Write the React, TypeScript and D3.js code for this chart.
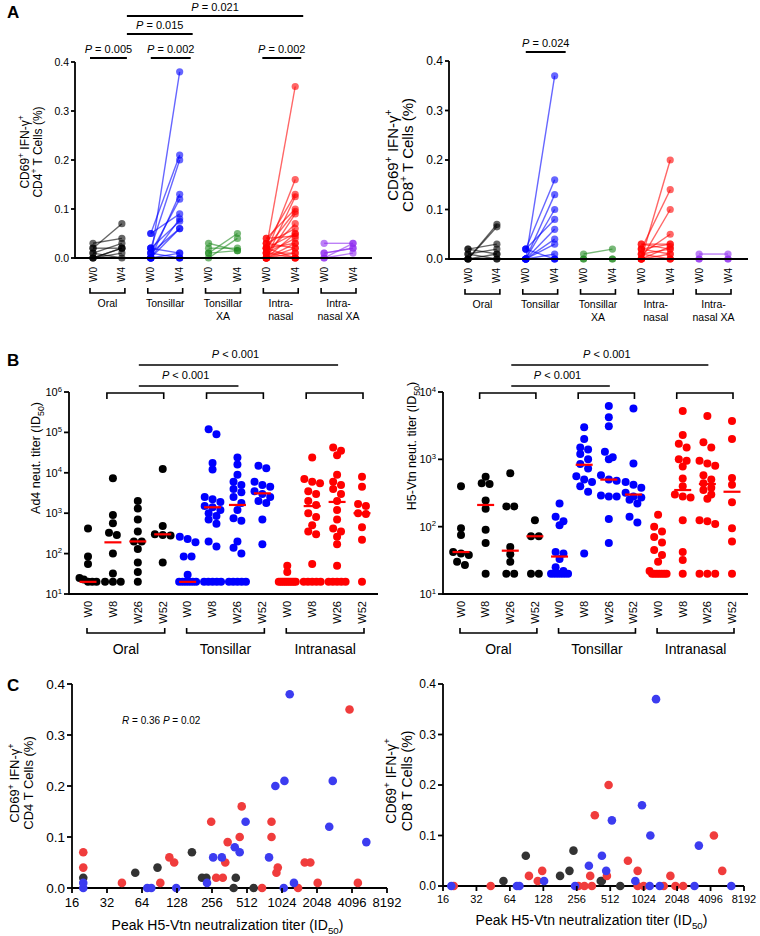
import React from "react";
import * as d3 from "d3";

const FONT = "'Liberation Sans', Arial, Helvetica, sans-serif";

// ---------------- Panel A data ----------------
const aGroups = ["Oral", "Tonsillar", "Tonsillar XA", "Intranasal", "Intranasal XA"];
const aGroupLabels = [["Oral"], ["Tonsillar"], ["Tonsillar", "XA"], ["Intra-", "nasal"], ["Intra-", "nasal XA"]];
const aTimes = ["W0", "W4"];
const aColors = ["#000000", "#0000ff", "#1f8a1f", "#ff0000", "#8f2bf0"];
const aTicks = [0, 0.1, 0.2, 0.3, 0.4];

// pairs: [W0, W4]
const cd4Oral = [[0.02, 0.07], [0.03, 0.04], [0.01, 0.03], [0.0, 0.02], [0.02, 0.02], [0.0, 0.01], [0.01, 0.0], [0.0, 0.02]];
const cd4Tonsillar = [[0.0, 0.38], [0.05, 0.21], [0.02, 0.2], [0.0, 0.13], [0.01, 0.12], [0.05, 0.09], [0.0, 0.08], [0.02, 0.075], [0.0, 0.06], [0.01, 0.06], [0.0, 0.01], [0.02, 0.01], [0.0, 0.0], [0.0, 0.0], [0.01, 0.0]];
const cd4TonsillarXA = [[0.03, 0.015], [0.01, 0.05], [0.0, 0.04], [0.02, 0.02], [0.01, 0.015]];
const cd4Intranasal = [[0.02, 0.35], [0.01, 0.16], [0.03, 0.13], [0.0, 0.125], [0.04, 0.1], [0.02, 0.095], [0.0, 0.09], [0.01, 0.07], [0.03, 0.06], [0.02, 0.05], [0.0, 0.05], [0.04, 0.045], [0.01, 0.04], [0.0, 0.03], [0.02, 0.03], [0.03, 0.02], [0.0, 0.02], [0.01, 0.01], [0.0, 0.01], [0.02, 0.0], [0.0, 0.0], [0.0, 0.0], [0.01, 0.0]];
const cd4IntranasalXA = [[0.03, 0.03], [0.01, 0.02], [0.0, 0.03], [0.0, 0.01], [0.01, 0.02]];

const cd8Oral = [[0.0, 0.07], [0.0, 0.065], [0.02, 0.03], [0.01, 0.02], [0.02, 0.01], [0.0, 0.01], [0.01, 0.0], [0.0, 0.0]];
const cd8Tonsillar = [[0.0, 0.37], [0.02, 0.16], [0.0, 0.13], [0.0, 0.1], [0.02, 0.08], [0.0, 0.06], [0.0, 0.04], [0.0, 0.03], [0.0, 0.01], [0.0, 0.0], [0.02, 0.0], [0.0, 0.0]];
const cd8TonsillarXA = [[0.01, 0.02], [0.0, 0.0], [0.0, 0.0]];
const cd8Intranasal = [[0.0, 0.2], [0.02, 0.14], [0.0, 0.1], [0.01, 0.05], [0.03, 0.03], [0.02, 0.03], [0.0, 0.025], [0.01, 0.02], [0.03, 0.02], [0.0, 0.01], [0.02, 0.01], [0.01, 0.0], [0.0, 0.0], [0.0, 0.0]];
const cd8IntranasalXA = [[0.01, 0.01], [0.0, 0.0], [0.0, 0.0]];

const cd4Data = [cd4Oral, cd4Tonsillar, cd4TonsillarXA, cd4Intranasal, cd4IntranasalXA];
const cd8Data = [cd8Oral, cd8Tonsillar, cd8TonsillarXA, cd8Intranasal, cd8IntranasalXA];

// ---------------- Panel B data ----------------
const bGroups = ["Oral", "Tonsillar", "Intranasal"];
const bTimes = ["W0", "W8", "W26", "W52"];
const bColors = ["#000000", "#0000ff", "#ff0000"];

const ad4Oral = [
  [420, 85, 55, 25, 23, 20, 20, 20],
  [7300, 900, 560, 330, 290, 100, 32, 20, 20, 20],
  [2000, 1300, 700, 350, 200, 200, 130, 60, 35, 20],
  [12500, 480, 300, 290, 280, 60],
];
const ad4Tonsillar = [
  [260, 230, 190, 85, 85, 30, 20, 20, 20, 20, 20, 20],
  [120000, 90000, 17500, 12000, 2500, 2200, 1900, 1500, 1400, 1200, 1000, 850, 700, 550, 200, 150, 20, 20, 20, 20, 20],
  [24000, 16000, 9000, 6000, 5000, 4000, 3300, 2500, 1800, 1200, 750, 650, 200, 140, 100, 20, 20, 20, 20, 20],
  [15000, 13000, 6000, 5000, 4500, 3500, 3000, 2500, 2000, 1800, 700, 170],
];
const ad4Intranasal = [
  [50, 35, 20, 20, 20, 20, 20, 20, 20, 20, 20, 20],
  [24000, 7000, 6000, 5500, 3500, 3000, 2000, 1600, 1000, 800, 500, 350, 300, 55, 20, 20, 20, 20, 20],
  [42000, 35000, 27000, 9000, 6000, 5000, 4000, 3000, 2000, 1200, 700, 420, 350, 260, 170, 50, 20, 20, 20, 20, 20],
  [8000, 4500, 1700, 1500, 1000, 950, 450, 220, 20],
];
const ad4Medians = [[20, 190, 200, 300], [20, 1400, 1600, 3100], [20, 1500, 1900, 1000]];

const h5Oral = [
  [400, 95, 75, 42, 40, 38, 30, 27],
  [550, 440, 430, 245, 185, 90, 57, 20],
  [620, 200, 200, 50, 39, 30, 20, 20],
  [125, 72, 72, 20, 20],
];
const h5Tonsillar = [
  [220, 140, 120, 105, 42, 40, 33, 25, 22, 20, 20, 20, 20, 20, 20],
  [3000, 2000, 1500, 1400, 1200, 1000, 850, 730, 560, 500, 460, 400, 330, 40],
  [6200, 4200, 3100, 1300, 1070, 1000, 580, 500, 480, 290, 280, 280, 130, 57],
  [5700, 870, 460, 420, 380, 320, 280, 270, 250, 220, 140, 115],
];
const h5Intranasal = [
  [150, 100, 85, 70, 58, 45, 38, 30, 22, 20, 20, 20, 20, 20, 20, 20],
  [5200, 2300, 1700, 1500, 1000, 950, 780, 520, 400, 300, 280, 270, 125, 42, 32, 20],
  [4400, 1800, 1500, 950, 870, 800, 580, 500, 440, 380, 350, 300, 260, 125, 120, 110, 20, 20, 20],
  [3700, 2000, 530, 420, 230, 95, 60, 20],
];
const h5Medians = [[42, 210, 44, 72], [36, 830, 500, 300], [20, 350, 430, 330]];

// ---------------- Panel C data ----------------
const cTicks = [16, 32, 64, 128, 256, 512, 1024, 2048, 4096, 8192];
const cYTicks = [0, 0.1, 0.2, 0.3, 0.4];
const cd4CorrRed = [[20, 0.07], [20, 0.04], [43, 0.01], [92, 0.01], [110, 0.06], [121, 0.05], [252, 0.13], [278, 0.02], [317, 0.02], [333, 0.05], [349, 0.09], [443, 0.1], [461, 0.16], [690, 0], [832, 0.13], [832, 0.1], [917, 0.03], [942, 0.04], [1408, 0], [1606, 0.05], [1795, 0.05], [2076, 0.01], [3900, 0.35], [4600, 0.01]];
const cd4CorrBlue = [[20, 0], [20, 0.01], [71, 0], [77, 0], [126, 0], [232, 0.01], [262, 0.06], [311, 0.06], [402, 0.08], [443, 0.07], [498, 0.13], [792, 0.06], [898, 0.2], [1060, 0], [1075, 0.21], [1193, 0.38], [1297, 0.01], [2610, 0.12], [2797, 0.21], [5440, 0.09]];
const cd4CorrBlack = [[20, 0.02], [56, 0.03], [87, 0.04], [172, 0.07], [210, 0.02], [229, 0.02], [393, 0], [410, 0.02], [584, 0]];

const cd8CorrRed = [[20, 0], [43, 0], [95, 0.02], [114, 0.01], [125, 0.03], [265, 0], [300, 0], [338, 0.02], [350, 0], [372, 0.14], [478, 0.02], [495, 0.2], [739, 0.05], [904, 0.03], [904, 0], [1024, 0], [1552, 0], [1782, 0.02], [1978, 0], [2320, 0], [4390, 0.1], [5220, 0.03]];
const cd8CorrBlue = [[19, 0], [74, 0], [78, 0], [130, 0.01], [247, 0], [329, 0.04], [431, 0.06], [471, 0.03], [530, 0.13], [861, 0.01], [989, 0.16], [1160, 0], [1176, 0.1], [1323, 0.37], [1428, 0], [2936, 0], [3214, 0.08], [6290, 0]];
const cd8CorrBlack = [[56, 0.01], [89, 0.06], [181, 0.02], [220, 0.03], [239, 0.07], [421, 0.01], [430, 0.01], [630, 0]];

// ---------------- helpers ----------------
type Seg = { t: string; sup?: boolean; sub?: boolean; it?: boolean };

function RichText({ segs, fs, ...rest }: any) {
  let cur = 0;
  return (
    <text fontSize={fs} fontFamily={FONT} fill="#000" {...rest}>
      {segs.map((s: Seg, i: number) => {
        const target = s.sup ? -fs * 0.4 : s.sub ? fs * 0.28 : 0;
        const dy = target - cur;
        cur = target;
        return (
          <tspan key={i} dy={dy} fontSize={s.sup || s.sub ? fs * 0.7 : fs} fontStyle={s.it ? "italic" : undefined}>
            {s.t}
          </tspan>
        );
      })}
    </text>
  );
}

function swarm(vals: number[], y: (v: number) => number, r: number, maxHalf: number) {
  const pts = vals.map((v) => ({ v, py: y(v) })).sort((a, b) => a.py - b.py);
  const rows: { v: number; py: number }[][] = [];
  let cur: { v: number; py: number }[] = [];
  for (const p of pts) {
    if (cur.length && p.py - cur[0].py > r * 1.5) {
      rows.push(cur);
      cur = [];
    }
    cur.push(p);
  }
  if (cur.length) rows.push(cur);
  const out: { dx: number; py: number; v: number }[] = [];
  for (const row of rows) {
    const n = row.length;
    const step = n > 1 ? Math.min(2 * r * 0.98, (2 * maxHalf) / (n - 1)) : 0;
    row.forEach((p, i) => out.push({ dx: (i - (n - 1) / 2) * step, py: p.py, v: p.v }));
  }
  return out;
}

const SW = 1.8;

function labelSegs(cell: string, sup: boolean) {
  return {
    l1: [{ t: "CD69" }, { t: "+", sup: true }, { t: " IFN-γ" }, { t: "+", sup: true }] as Seg[],
    l2: (sup
      ? [{ t: cell }, { t: "+", sup: true }, { t: " T Cells (%)" }]
      : [{ t: cell + " T Cells (%)" }]) as Seg[],
  };
}

// ---------------- Panel A ----------------
function PairedPanel(props: any) {
  const { data, axisX, axisRight, yTop, yBot, ptLeft, ptRight, tickFs, labelFs, lab1X, lab2X, labY, cell, sigs } = props;
  const y = d3.scaleLinear().domain([0, 0.4]).range([yBot, yTop]);
  const keys = aGroups.flatMap((g) => aTimes.map((t) => g + "|" + t));
  const x = d3.scalePoint<string>().domain(keys).range([ptLeft, ptRight]);
  const k = (g: string, t: string) => x(g + "|" + t) as number;
  const lab = labelSegs(cell, true);
  return (
    <g>
      {aGroups.map((g, gi) => (
        <g key={g} stroke={aColors[gi]} fill={aColors[gi]}>
          {data[gi].map((p: number[], i: number) => (
            <g key={i}>
              <line x1={k(g, "W0")} x2={k(g, "W4")} y1={y(p[0])} y2={y(p[1])} strokeWidth={1.4} strokeOpacity={0.6} />
              <circle cx={k(g, "W0")} cy={y(p[0])} r={3.6} stroke="none" fillOpacity={0.6} />
              <circle cx={k(g, "W4")} cy={y(p[1])} r={3.6} stroke="none" fillOpacity={0.6} />
            </g>
          ))}
        </g>
      ))}
      <line x1={axisX} x2={axisX} y1={yTop} y2={yBot + SW / 2} stroke="#000" strokeWidth={SW} />
      <line x1={axisX} x2={axisRight} y1={yBot} y2={yBot} stroke="#000" strokeWidth={SW} />
      {aTicks.map((t) => (
        <g key={t}>
          <line x1={axisX - 4} x2={axisX} y1={y(t)} y2={y(t)} stroke="#000" strokeWidth={SW} />
          <text x={axisX - 6} y={y(t)} dy="0.35em" textAnchor="end" fontSize={tickFs} fontFamily={FONT}>
            {t.toFixed(1)}
          </text>
        </g>
      ))}
      {keys.map((key) => (
        <text key={key} transform={`translate(${x(key)},${yBot + 9}) rotate(-90)`} textAnchor="end" dy="0.35em" fontSize={10} fontFamily={FONT}>
          {key.split("|")[1]}
        </text>
      ))}
      {aGroups.map((g, gi) => {
        const x1 = k(g, "W0") - 3;
        const x2 = k(g, "W4") + 3;
        const cx = (k(g, "W0") + k(g, "W4")) / 2;
        return (
          <g key={g}>
            <path d={`M${x1},${yBot + 30} V${yBot + 35} H${x2} V${yBot + 30}`} fill="none" stroke="#000" strokeWidth={1.6} />
            {aGroupLabels[gi].map((s, li) => (
              <text key={li} x={cx} y={yBot + 49 + li * 13} textAnchor="middle" fontSize={10.5} fontFamily={FONT}>
                {s}
              </text>
            ))}
          </g>
        );
      })}
      <RichText segs={lab.l1} fs={labelFs} textAnchor="middle" transform={`translate(${lab1X},${labY}) rotate(-90)`} />
      <RichText segs={lab.l2} fs={labelFs} textAnchor="middle" transform={`translate(${lab2X},${labY}) rotate(-90)`} />
      {sigs.map((s: any, i: number) => {
        const x1 = k(s.g0, s.t0) + s.o0;
        const x2 = k(s.g1, s.t1) + s.o1;
        return (
          <g key={i}>
            <line x1={x1} x2={x2} y1={s.y} y2={s.y} stroke="#000" strokeWidth={1.8} />
            <RichText segs={[{ t: "P", it: true }, { t: " = " + s.p }]} fs={11} x={(x1 + x2) / 2} y={s.y - 5} textAnchor="middle" />
          </g>
        );
      })}
    </g>
  );
}

// ---------------- Panel B ----------------
function TiterPanel(props: any) {
  const { data, medians, maxExp, axisX, axisRight, yTop, yBot, ptLeft, ptRight, label, labX, labY } = props;
  const y = d3.scaleLog().domain([10, Math.pow(10, maxExp)]).range([yBot, yTop]);
  const keys = bGroups.flatMap((g) => bTimes.map((t) => g + "|" + t));
  const x = d3.scalePoint<string>().domain(keys).range([ptLeft, ptRight]);
  const k = (g: string, t: string) => x(g + "|" + t) as number;
  const exps = d3.range(1, maxExp + 1);
  const topMid = (g: string) => (k(g, "W8") + k(g, "W52")) / 2 + 1;
  const topY = yTop + 1;
  return (
    <g>
      {bGroups.map((g, gi) =>
        bTimes.map((t, ti) =>
          swarm(data[gi][ti], y, 4, 8.5).map((p, i) => (
            <circle key={g + t + i} cx={k(g, t) + p.dx} cy={p.py} r={4} fill={bColors[gi]} />
          ))
        )
      )}
      {bGroups.map((g, gi) =>
        bTimes.map((t, ti) => {
          const m = medians[gi][ti];
          return <line key={g + t + "m"} x1={k(g, t) - 8.5} x2={k(g, t) + 8.5} y1={y(m)} y2={y(m)} stroke="#ff0000" strokeWidth={2.2} />;
        })
      )}
      <line x1={axisX} x2={axisX} y1={yTop} y2={yBot + SW / 2} stroke="#000" strokeWidth={SW} />
      <line x1={axisX} x2={axisRight} y1={yBot} y2={yBot} stroke="#000" strokeWidth={SW} />
      {exps.map((e) => (
        <g key={e}>
          <line x1={axisX - 5} x2={axisX} y1={y(Math.pow(10, e))} y2={y(Math.pow(10, e))} stroke="#000" strokeWidth={SW} />
          <RichText segs={[{ t: "10" }, { t: String(e), sup: true }]} fs={11} x={axisX - 7} y={y(Math.pow(10, e)) + 4} textAnchor="end" />
        </g>
      ))}
      {keys.map((key) => (
        <text key={key} transform={`translate(${x(key)},${yBot + 7}) rotate(-90)`} textAnchor="end" dy="0.35em" fontSize={11} fontFamily={FONT}>
          {key.split("|")[1]}
        </text>
      ))}
      {bGroups.map((g) => {
        const x1 = k(g, "W0") - 1;
        const x2 = k(g, "W52") + 2;
        return (
          <g key={g}>
            <path d={`M${x1},${yBot + 34} V${yBot + 39} H${x2} V${yBot + 34}`} fill="none" stroke="#000" strokeWidth={1.6} />
            <text x={(x1 + x2) / 2} y={yBot + 60} textAnchor="middle" fontSize={14} fontFamily={FONT}>
              {g}
            </text>
            <path d={`M${k(g, "W8") - 6},${topY + 6} V${topY} H${k(g, "W52") + 1} V${topY + 6}`} fill="none" stroke="#000" strokeWidth={1.6} />
          </g>
        );
      })}
      <line x1={topMid("Oral")} x2={topMid("Intranasal")} y1={yTop - 27} y2={yTop - 27} stroke="#000" strokeWidth={1.6} />
      <RichText segs={[{ t: "P", it: true }, { t: " < 0.001" }]} fs={11} x={(topMid("Oral") + topMid("Intranasal")) / 2 - 3} y={yTop - 34} textAnchor="middle" />
      <line x1={topMid("Oral")} x2={topMid("Tonsillar")} y1={yTop - 6} y2={yTop - 6} stroke="#000" strokeWidth={1.6} />
      <RichText segs={[{ t: "P", it: true }, { t: " < 0.001" }]} fs={11} x={(topMid("Oral") + topMid("Tonsillar")) / 2 - 3} y={yTop - 13} textAnchor="middle" />
      <RichText segs={label} fs={12.5} textAnchor="middle" transform={`translate(${labX},${labY}) rotate(-90)`} />
    </g>
  );
}

// ---------------- Panel C ----------------
function CorrPanel(props: any) {
  const { red, blue, black, axisX, axisRight, yTop, yBot, yTickFs, xTickFs, titleY, labFs, lab1X, lab2X, labY, cell, note } = props;
  const x = d3.scaleLog().base(2).domain([16, 8192]).range([axisX, axisRight]);
  const y = d3.scaleLinear().domain([0, 0.4]).range([yBot, yTop]);
  const lab = labelSegs(cell, false);
  const dots = (arr: number[][], c: string) =>
    arr.map((d, i) => <circle key={c + i} cx={x(d[0])} cy={y(d[1])} r={4.3} fill={c} />);
  return (
    <g>
      <line x1={axisX} x2={axisX} y1={yTop} y2={yBot + SW / 2} stroke="#000" strokeWidth={SW} />
      <line x1={axisX} x2={axisRight} y1={yBot} y2={yBot} stroke="#000" strokeWidth={SW} />
      {dots(black, "#333333")}
      {dots(red, "#f03c3c")}
      {dots(blue, "#3c3cf0")}
      {cYTicks.map((t) => (
        <g key={t}>
          <line x1={axisX - 5} x2={axisX} y1={y(t)} y2={y(t)} stroke="#000" strokeWidth={SW} />
          <text x={axisX - 7} y={y(t)} dy="0.35em" textAnchor="end" fontSize={yTickFs} fontFamily={FONT}>
            {t.toFixed(1)}
          </text>
        </g>
      ))}
      {cTicks.map((t) => (
        <g key={t}>
          <line x1={x(t)} x2={x(t)} y1={yBot} y2={yBot + 5} stroke="#000" strokeWidth={SW} />
          <text x={x(t)} y={yBot + 9} dy="0.75em" textAnchor="middle" fontSize={xTickFs} fontFamily={FONT}>
            {t}
          </text>
        </g>
      ))}
      <RichText
        segs={[{ t: "Peak H5-Vtn neutralization titer (ID" }, { t: "50", sub: true }, { t: ")" }]}
        fs={14}
        x={(axisX + axisRight) / 2 - 2}
        y={titleY}
        textAnchor="middle"
      />
      <RichText segs={lab.l1} fs={labFs} textAnchor="middle" transform={`translate(${lab1X},${labY}) rotate(-90)`} />
      <RichText segs={lab.l2} fs={labFs} textAnchor="middle" transform={`translate(${lab2X},${labY}) rotate(-90)`} />
      {note && (
        <RichText
          segs={[{ t: "R", it: true }, { t: " = 0.36  " }, { t: "P", it: true }, { t: " = 0.02" }]}
          fs={10}
          x={note[0]}
          y={note[1]}
        />
      )}
    </g>
  );
}

export default function App() {
  return (
    <svg width={760} height={936} viewBox="0 0 760 936" style={{ position: "absolute", left: 0, top: 0, background: "#fff" }} fontFamily={FONT}>
      <rect width={760} height={936} fill="#fff" />
      <text x={7} y={18} fontSize={17} fontWeight="bold" fontFamily={FONT}>A</text>
      <text x={7} y={366} fontSize={17} fontWeight="bold" fontFamily={FONT}>B</text>
      <text x={7} y={691} fontSize={17} fontWeight="bold" fontFamily={FONT}>C</text>

      <PairedPanel
        data={cd4Data}
        axisX={75}
        axisRight={372}
        yTop={62}
        yBot={258}
        ptLeft={93}
        ptRight={353}
        tickFs={10.5}
        labelFs={12}
        lab1X={29}
        lab2X={42}
        labY={152}
        cell="CD4"
        sigs={[
          { g0: "Oral", t0: "W0", o0: -3, g1: "Oral", t1: "W4", o1: 5, y: 58, p: "0.005" },
          { g0: "Tonsillar", t0: "W0", o0: 0, g1: "Tonsillar", t1: "W4", o1: 11, y: 58, p: "0.002" },
          { g0: "Intranasal", t0: "W0", o0: -4, g1: "Intranasal", t1: "W4", o1: 6, y: 58, p: "0.002" },
          { g0: "Oral", t0: "W4", o0: 5, g1: "Tonsillar", t1: "W4", o1: 13, y: 34, p: "0.015" },
          { g0: "Oral", t0: "W4", o0: 5, g1: "Intranasal", t1: "W4", o1: 8, y: 16, p: "0.021" },
        ]}
      />
      <PairedPanel
        data={cd8Data}
        axisX={449}
        axisRight={748}
        yTop={61}
        yBot={259}
        ptLeft={468}
        ptRight={728}
        tickFs={12}
        labelFs={15}
        lab1X={398}
        lab2X={413}
        labY={155}
        cell="CD8"
        sigs={[{ g0: "Tonsillar", t0: "W0", o0: 0, g1: "Tonsillar", t1: "W4", o1: 11, y: 52, p: "0.024" }]}
      />

      <TiterPanel
        data={[ad4Oral, ad4Tonsillar, ad4Intranasal]}
        medians={ad4Medians}
        maxExp={6}
        axisX={69}
        axisRight={378}
        yTop={392}
        yBot={594}
        ptLeft={88}
        ptRight={362}
        label={[{ t: "Ad4 neut. titer (ID" }, { t: "50", sub: true }, { t: ")" }]}
        labX={40}
        labY={458}
      />
      <TiterPanel
        data={[h5Oral, h5Tonsillar, h5Intranasal]}
        medians={h5Medians}
        maxExp={4}
        axisX={443}
        axisRight={748}
        yTop={392}
        yBot={594}
        ptLeft={461}
        ptRight={732}
        label={[{ t: "H5-Vtn neut. titer (ID" }, { t: "50", sub: true }, { t: ")" }]}
        labX={416}
        labY={446}
      />

      <CorrPanel
        red={cd4CorrRed}
        blue={cd4CorrBlue}
        black={cd4CorrBlack}
        axisX={72}
        axisRight={387}
        yTop={684}
        yBot={888}
        yTickFs={13.5}
        xTickFs={13}
        titleY={930}
        labFs={13}
        lab1X={19}
        lab2X={33}
        labY={783}
        cell="CD4"
        note={[122, 724]}
      />
      <CorrPanel
        red={cd8CorrRed}
        blue={cd8CorrBlue}
        black={cd8CorrBlack}
        axisX={443}
        axisRight={744}
        yTop={684}
        yBot={886}
        yTickFs={12}
        xTickFs={11}
        titleY={925}
        labFs={14}
        lab1X={396}
        lab2X={412}
        labY={781}
        cell="CD8"
        note={null}
      />
    </svg>
  );
}
